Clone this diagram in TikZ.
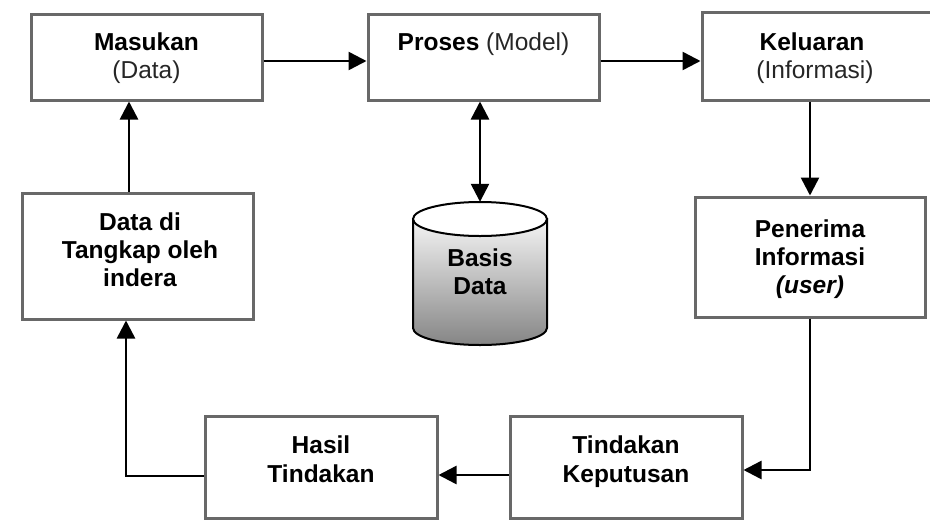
\documentclass[tikz,border=0pt]{standalone}
\usepackage{fontspec}
\setmainfont{Liberation Sans}
\usetikzlibrary{arrows.meta}
\definecolor{boxgray}{HTML}{686868}
\definecolor{cyltop}{HTML}{F4F4F4}
\definecolor{cylbot}{HTML}{858585}
\definecolor{txtreg}{HTML}{262626}
\begin{document}
\begin{tikzpicture}[x=1pt,y=-1pt,
  box/.style={draw=boxgray, line width=3pt, fill=white, inner sep=0pt},
  arr/.style={line width=2.5pt, -{Triangle[length=18pt,width=18pt]}},
  dblarr/.style={line width=2.5pt, {Triangle[length=18pt,width=18pt]}-{Triangle[length=18pt,width=18pt]}},
  bt/.style={anchor=base, inner sep=0pt, font=\fontsize{24.5}{28}\selectfont\bfseries},
  rt/.style={anchor=base, inner sep=0pt, text=txtreg, font=\fontsize{24.5}{28}\selectfont},
  it/.style={anchor=base, inner sep=0pt, font=\fontsize{24.5}{28}\selectfont\bfseries\itshape},
  cyl/.style={line width=2pt, draw=black}]
\useasboundingbox (0,0) rectangle (930,520);
\fill[white] (0,0) rectangle (930,520);
\clip (0,0) rectangle (930,520);

% boxes
\node[box, minimum width=231pt, minimum height=86pt] (mas) at (146.5,57) {};
\node[box, minimum width=231pt, minimum height=86pt] (pro) at (483.5,57) {};
\node[box, minimum width=242pt, minimum height=88pt] (kel) at (823,56) {};
\node[box, minimum width=231pt, minimum height=126pt] (dat) at (137.5,256) {};
\node[box, minimum width=230pt, minimum height=120pt] (pen) at (810,257) {};
\node[box, minimum width=232pt, minimum height=102pt] (has) at (321,467) {};
\node[box, minimum width=232pt, minimum height=102pt] (tk) at (626,467) {};
\node[minimum width=134pt, minimum height=143pt, inner sep=0pt] (db) at (480,273.5) {};

% cylinder
\draw[cyl, top color=cyltop, bottom color=cylbot]
  (413,219) -- (413,328) arc[start angle=180, end angle=360, x radius=67pt, y radius=17pt] -- (547,219) -- cycle;
\draw[cyl, fill=white] (480,219) ellipse [x radius=67pt, y radius=17pt];

% texts
\node[bt] (t1) at (146.5,50) {Masukan};
\node[rt] (t2) at (146.5,78) {(Data)};
\node[anchor=base, inner sep=0pt, font=\fontsize{24.5}{28}\selectfont] (t3) at (483.5,50) {\textbf{Proses} \textcolor{txtreg}{(Model)}};
\node[bt] (t4) at (812,50) {Keluaran};
\node[rt] (t5) at (815,78) {(Informasi)};
\node[bt] (t6) at (140,230) {Data di};
\node[bt] (t7) at (140,258) {Tangkap oleh};
\node[bt] (t8) at (140,286) {indera};
\node[bt] (t9) at (480,266) {Basis};
\node[bt] (t10) at (480,294) {Data};
\node[bt] (t11) at (810,237) {Penerima};
\node[bt] (t12) at (810,265) {Informasi};
\node[it] (t13) at (810,293) {(user)};
\node[bt] (t14) at (321,453) {Hasil};
\node[bt] (t15) at (321,482) {Tindakan};
\node[bt] (t16) at (626,453) {Tindakan};
\node[bt] (t17) at (626,482) {Keputusan};

% connectors
\draw[arr] ([yshift=-4pt]mas.east) -- ([yshift=-4pt]pro.west);
\draw[arr] ([yshift=-4pt]pro.east) -- ([yshift=-4pt]pro.east -| kel.west);
\draw[dblarr] (db.north |- pro.south) -- (db.north);
\draw[arr] (kel.south -| pen.north) -- (pen.north);
\draw[arr] (pen.south) |- ([yshift=-3pt]tk.east);
\draw[arr] ([yshift=-8pt]tk.west) -- ([yshift=-8pt]tk.west -| has.east);
\draw[arr] ([yshift=-9pt]has.west) -| ([xshift=-11.5pt]dat.south);
\draw[arr] ([xshift=-8.5pt]dat.north) -- ([xshift=-8.5pt]dat.north |- mas.south);
\end{tikzpicture}
\end{document}
